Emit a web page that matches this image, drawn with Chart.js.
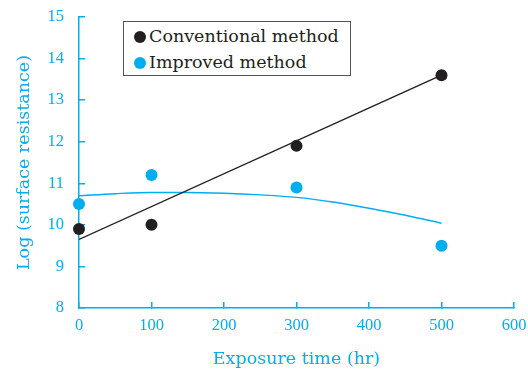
<!DOCTYPE html>
<html>
<head>
<meta charset="utf-8">
<script src="https://cdn.jsdelivr.net/npm/chart.js@4"></script>
<style>
    body { margin: 0; background: #fff; }
    #wrap { position: relative; width: 528px; height: 374px; }
    #legend {
        position: absolute; left: 123px; top: 21px; width: 226px; height: 53px;
        border: 1.5px solid #555; background: #fff;
        font-family: 'DejaVu Serif', serif; font-size: 17.5px; color: #231f20;
    }
    .row { position: absolute; left: 10px; height: 24px; line-height: 24px; white-space: nowrap; }
    .dot { display: inline-block; width: 12px; height: 12px; border-radius: 50%; margin-right: 3px; vertical-align: -1px; }
</style>
</head>
<body>
<div id="wrap">
    <canvas id="chart" width="528" height="374"></canvas>
    <div id="legend">
        <div class="row" style="top:2px"><span class="dot" style="background:#231f20"></span>Conventional method</div>
        <div class="row" style="top:28px"><span class="dot" style="background:#00aeef"></span>Improved method</div>
    </div>
</div>
<script>
// measured points
const hours = [0, 100, 300, 500];
const conventional = [9.9, 10.0, 11.9, 13.6];
const improved = [10.5, 11.2, 10.9, 9.5];

// fitted curves
const convFitX = [0, 500];
const convFitY = [9.65, 13.6];
const impFitX = [0, 50, 100, 150, 200, 250, 300, 350, 400, 450, 500];
const impFitY = [10.70, 10.75, 10.78, 10.78, 10.76, 10.72, 10.66, 10.55, 10.40, 10.23, 10.04];

const xTicks = [0, 100, 200, 300, 400, 500, 600];
const yTicks = [8, 9, 10, 11, 12, 13, 14, 15];

const cyan = '#00aeef';
const dark = '#231f20';
const tickFont = { family: "'Liberation Serif', serif", size: 16.5 };
const titleFont = { family: "'DejaVu Serif', serif", size: 17.5 };

const toXY = (xs, ys) => xs.map((x, i) => ({ x: x, y: ys[i] }));

new Chart(document.getElementById('chart'), {
    type: 'scatter',
    data: {
        datasets: [
            {
                type: 'line', data: toXY(convFitX, convFitY),
                borderColor: dark, borderWidth: 1.4, pointRadius: 0, fill: false
            },
            {
                type: 'line', data: toXY(impFitX, impFitY),
                borderColor: cyan, borderWidth: 1.4, pointRadius: 0, fill: false,
                tension: 0.4, cubicInterpolationMode: 'monotone'
            },
            {
                data: toXY(hours, conventional), clip: false,
                backgroundColor: dark, borderWidth: 0, pointRadius: 6
            },
            {
                data: toXY(hours, improved), clip: false,
                backgroundColor: cyan, borderWidth: 0, pointRadius: 6
            }
        ]
    },
    options: {
        responsive: false,
        animation: false,
        layout: { padding: { top: 17, right: 14, left: 0, bottom: 0 } },
        plugins: { legend: { display: false }, tooltip: { enabled: false } },
        scales: {
            x: {
                type: 'linear', min: 0, max: 600,
                afterBuildTicks: (s) => { s.ticks = xTicks.map(v => ({ value: v })); },
                afterFit: (s) => {
                    s.height = 66;
                    s.paddingLeft = 0;
                    s.paddingRight = 0;
                },
                border: { color: cyan, width: 1.5 },
                grid: { drawOnChartArea: false, color: cyan, tickLength: -6, lineWidth: 1.5 },
                ticks: { color: cyan, padding: 14, font: tickFont },
                title: {
                    display: true, text: 'Exposure time (hr)', color: cyan,
                    font: titleFont, padding: { top: 14 }
                }
            },
            y: {
                type: 'linear', min: 8, max: 15,
                afterBuildTicks: (s) => { s.ticks = yTicks.map(v => ({ value: v })); },
                afterFit: (s) => {
                    s.width = 79;
                    s.paddingTop = 0;
                    s.paddingBottom = 0;
                },
                border: { color: cyan, width: 1.5 },
                grid: { drawOnChartArea: false, color: cyan, tickLength: -6, lineWidth: 1.5 },
                ticks: { color: cyan, padding: 21, font: tickFont },
                title: {
                    display: true, text: 'Log (surface resistance)', color: cyan,
                    font: titleFont, padding: { top: 14, bottom: 0 }
                }
            }
        }
    }
});
</script>
</body>
</html>
